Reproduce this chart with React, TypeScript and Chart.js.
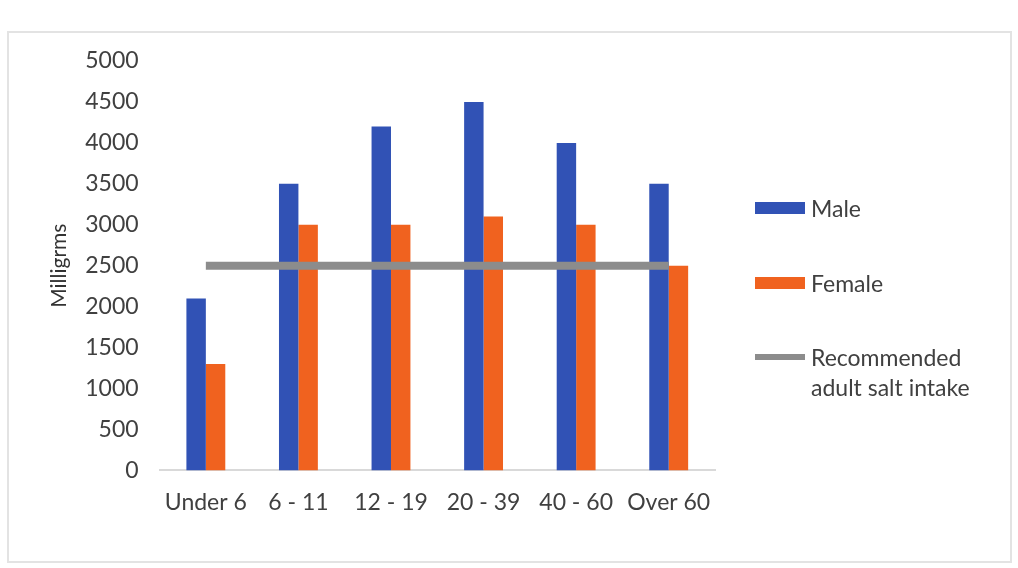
import { useEffect, useRef } from "react"
import { Chart, registerables } from "chart.js"

Chart.register(...registerables)

const ageGroups = ["Under 6", "6 - 11", "12 - 19", "20 - 39", "40 - 60", "Over 60"]
const maleValues = [2100, 3500, 4200, 4500, 4000, 3500]
const femaleValues = [1300, 3000, 3000, 3100, 3000, 2500]
const recommendedValues = [2500, 2500, 2500, 2500, 2500, 2500]

const BLUE = "#3152b5"
const ORANGE = "#f0621f"
const GRAY = "#8c8c8c"
const FONT = "Lato, 'Open Sans', sans-serif"

export default function App() {
  const chartRef = useRef<HTMLCanvasElement>(null)
  const chartInstance = useRef<Chart | null>(null)

  useEffect(() => {
    document.body.style.margin = "0"
    if (!chartRef.current) return
    if (chartInstance.current) chartInstance.current.destroy()
    const ctx = chartRef.current.getContext("2d")
    if (!ctx) return

    chartInstance.current = new Chart(ctx, {
      type: "bar",
      data: {
        labels: ageGroups,
        datasets: [
          {
            type: "line",
            label: "Recommended adult salt intake",
            data: recommendedValues,
            borderColor: GRAY,
            borderWidth: 8,
            pointRadius: 0,
            order: 0,
          },
          {
            label: "Male",
            data: maleValues,
            backgroundColor: BLUE,
            categoryPercentage: 0.42,
            barPercentage: 1,
            order: 1,
          },
          {
            label: "Female",
            data: femaleValues,
            backgroundColor: ORANGE,
            categoryPercentage: 0.42,
            barPercentage: 1,
            order: 1,
          },
        ],
      },
      options: {
        animation: false,
        responsive: true,
        maintainAspectRatio: false,
        layout: { padding: { left: 47, right: 303, top: 61, bottom: 42 } },
        scales: {
          x: {
            grid: { display: false },
            border: { color: "#d9d9d9", width: 2 },
            ticks: { color: "#404040", font: { family: FONT, size: 23 }, padding: 10, maxRotation: 0 },
          },
          y: {
            min: 0,
            max: 5000,
            grid: { display: false },
            border: { display: false },
            ticks: {
              stepSize: 500,
              color: "#404040",
              font: { family: FONT, size: 23 },
              padding: 13,
              callback: (v) => String(v),
            },
            title: {
              display: true,
              text: "Milligrms",
              color: "#333",
              font: { family: FONT, size: 21 },
              padding: 0,
            },
          },
        },
        plugins: {
          legend: { display: false },
          tooltip: { enabled: false },
        },
      },
    })

    return () => {
      if (chartInstance.current) {
        chartInstance.current.destroy()
        chartInstance.current = null
      }
    }
  }, [])

  const legendItem = (color: string, height: number, text: string[], top: number) => (
    <div style={{ position: "absolute", left: 755, top, display: "flex", alignItems: "flex-start" }}>
      <div style={{ width: 50, height, background: color, marginTop: 15 - height / 2, marginRight: 6 }} />
      <div style={{ fontFamily: FONT, fontSize: 23, color: "#404040", lineHeight: "30px" }}>
        {text.map((t) => (
          <div key={t}>{t}</div>
        ))}
      </div>
    </div>
  )

  return (
    <div style={{ position: "relative", width: 1018, height: 568, background: "#fff", overflow: "hidden" }}>
      <div
        style={{
          position: "absolute",
          left: 7,
          top: 31,
          width: 1001,
          height: 528,
          border: "2px solid #e3e3e3",
        }}
      />
      <div style={{ position: "absolute", left: 0, top: 0, width: 1018, height: 568 }}>
        <canvas ref={chartRef} />
      </div>
      {legendItem(BLUE, 12, ["Male"], 193)}
      {legendItem(ORANGE, 12, ["Female"], 268)}
      {legendItem(GRAY, 6, ["Recommended", "adult salt intake"], 342)}
    </div>
  )
}
